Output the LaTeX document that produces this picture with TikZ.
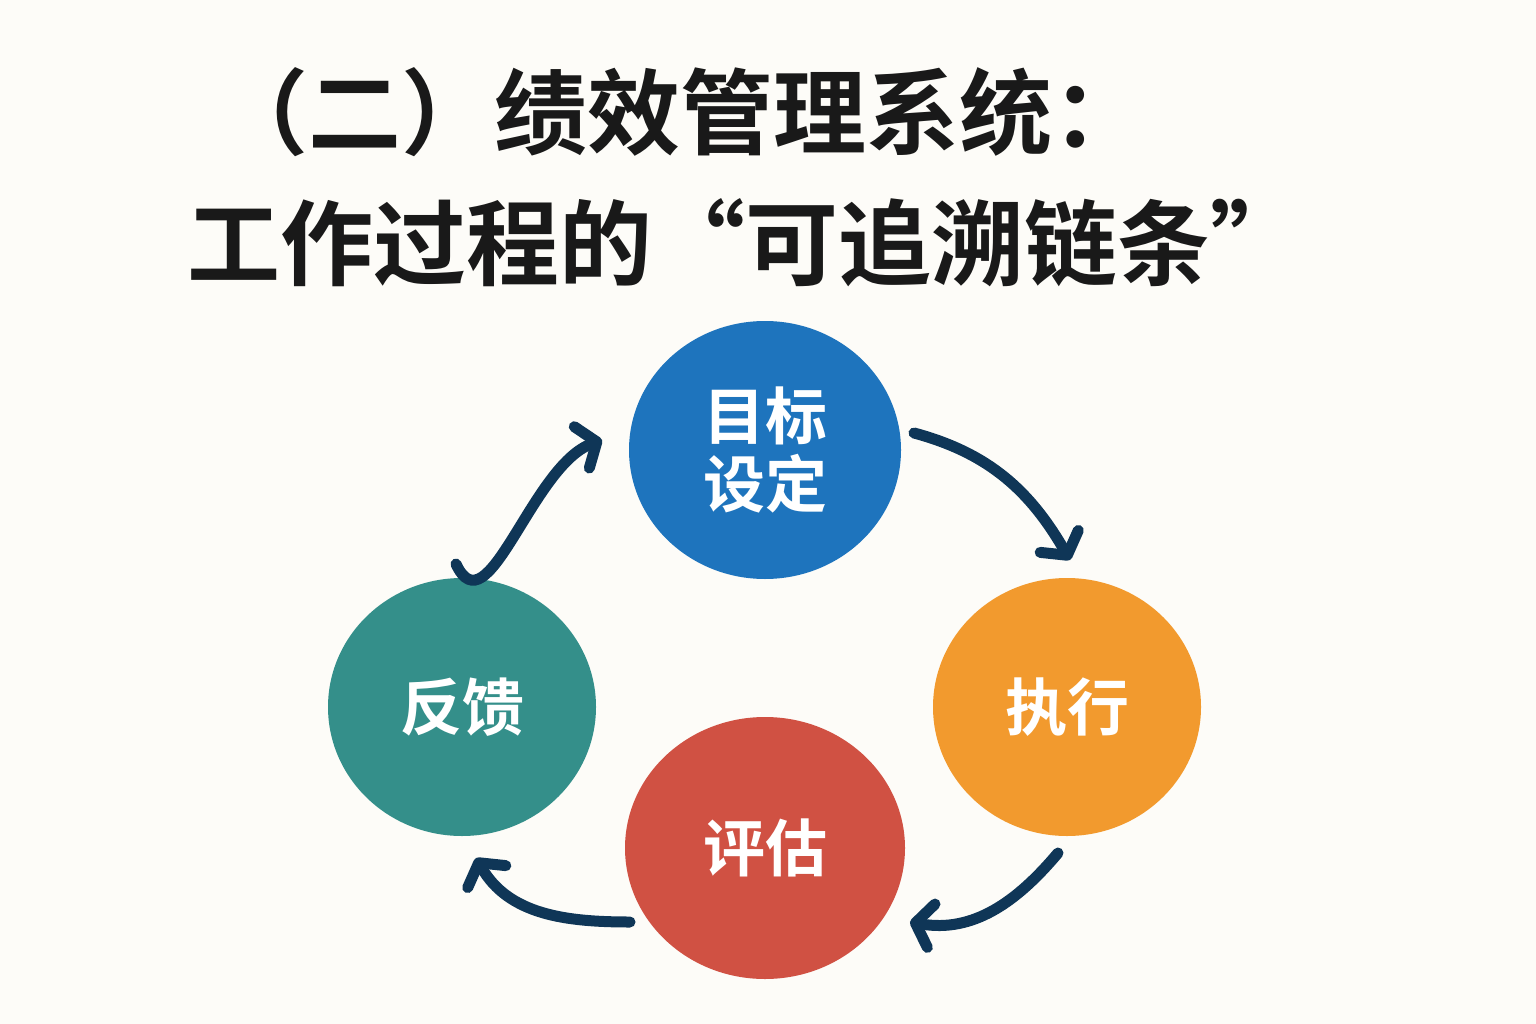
\documentclass[tikz,border=0pt]{standalone}
\usepackage{fontspec}
\newfontfamily\cjk{Noto Sans CJK SC}[BoldFont={* Bold}]
\usetikzlibrary{shapes.geometric,arrows.meta}
\definecolor{bg}{HTML}{FDFCF8}
\definecolor{navy}{HTML}{0F3657}
\definecolor{cblue}{HTML}{1E74BD}
\definecolor{corange}{HTML}{F29A2E}
\definecolor{cred}{HTML}{D05143}
\definecolor{cteal}{HTML}{348F8A}
\tikzset{
 stage/.style={ellipse,minimum width=272pt,minimum height=258pt,inner sep=0pt,text=white,font=\cjk\bfseries\fontsize{62}{76}\selectfont,align=center},
 flow/.style={navy,line width=11pt,line cap=round,-{Straight Barb[length=16pt,width=44pt,line width=11pt,line cap=round,line join=round]}},
 ttl/.style={font=\cjk\bfseries\fontsize{93}{100}\selectfont,text=black!90}
}
\begin{document}
\begin{tikzpicture}[x=1pt,y=-1pt]
\fill[bg] (0,0) rectangle (1536,1024);
\useasboundingbox (0,0) rectangle (1536,1024);
\node[ttl] (t1) at (680,112) {（二）绩效管理系统：};
\node[ttl] (t2) at (745,243) {工作过程的“可追溯链条”};
\node[stage,fill=cblue] (goal) at (765,450) {目标\\[-8pt]设定};
\node[stage,fill=corange,minimum width=268pt] (exec) at (1067,707) {执行};
\node[stage,fill=cred,minimum width=280pt,minimum height=262pt] (eval) at (765,848) {评估};
\node[stage,fill=cteal,minimum width=268pt] (fb) at (462,707) {反馈};
\coordinate (a1s) at (914,433); \coordinate (a1e) at (1070,560);
\coordinate (a2s) at (1058,853); \coordinate (a2e) at (910,922);
\coordinate (a3s) at (630,922); \coordinate (a3e) at (476,858);
\coordinate (a4s) at (456,564); \coordinate (a4e) at (602,440);
\draw[flow] (a1s) to[out=-15,in=120] (a1e);
\draw[flow] (a2s) to[out=-130,in=-10] (a2e);
\draw[flow] (a3s) to[out=180,in=-60] (a3e);
\draw[flow] (a4s) to[out=-65,in=200] (a4e);
\end{tikzpicture}
\end{document}
